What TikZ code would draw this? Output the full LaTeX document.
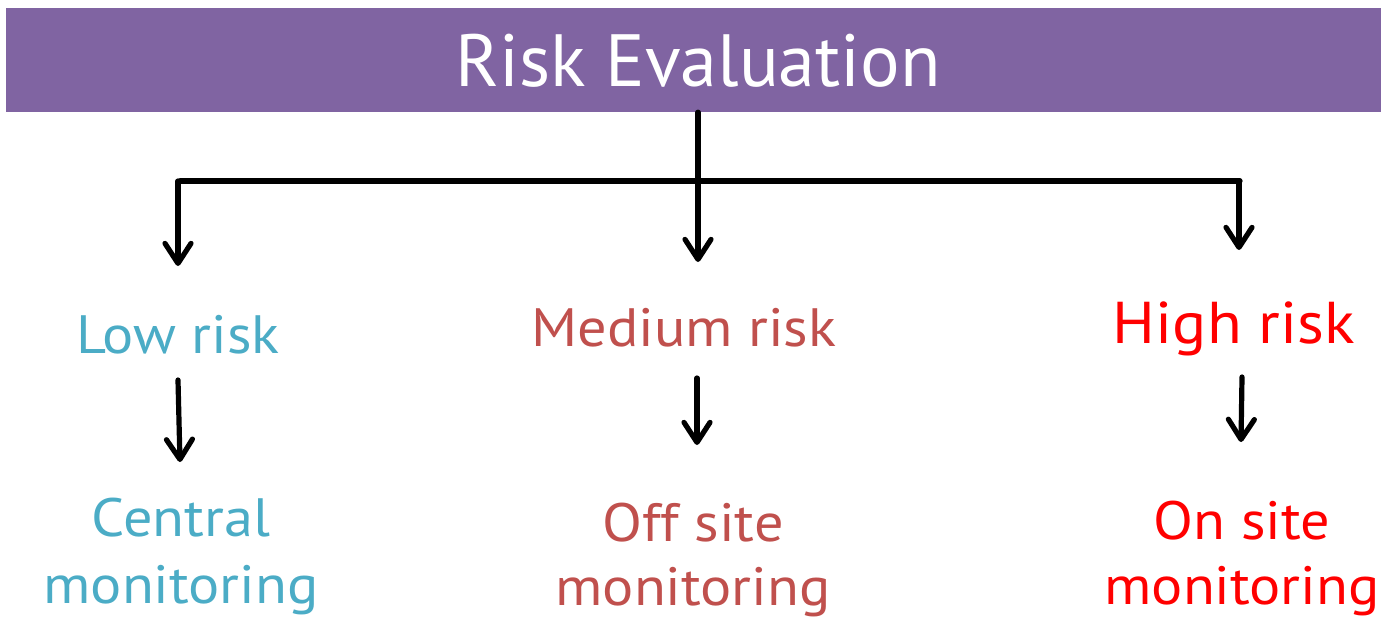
\documentclass[tikz,border=0pt]{standalone}
\usepackage{fontspec}
\setmainfont[FakeStretch=1.08]{PT Sans}
\newfontfamily\titlefont{PT Sans}
\usetikzlibrary{arrows.meta}
\definecolor{barpurple}{HTML}{8064A2}
\definecolor{lowcol}{HTML}{4BACC6}
\definecolor{medcol}{HTML}{C0504D}
\definecolor{highcol}{HTML}{FF0000}
\tikzset{
  link/.style={line width=5.2pt, line cap=round},
  arr/.style={link, -{Straight Barb[length=20pt,width=26pt,line cap=round,line join=round]}},
  lbl/.style={inner sep=0pt, anchor=base, align=center},
}
\begin{document}
\begin{tikzpicture}[x=1pt,y=-1pt]
  \useasboundingbox (0,0) rectangle (1381,619);
  % title bar
  \node[fill=barpurple, minimum width=1375pt, minimum height=104pt, inner sep=0pt] (bar) at (693.5,60) {};
  \node[inner sep=0pt, anchor=base, text=white, font=\titlefont\fontsize{74}{80}\selectfont]
    (title) at (698,86) {Risk Evaluation};

  % branch points
  \coordinate (split) at (698,181);
  \coordinate (hl) at (180,181);
  \coordinate (hr) at (1240,181);
  \coordinate (lowtip) at (178,266);
  \coordinate (medtip) at (698,262);
  \coordinate (hightip) at (1239,250);

  % risk levels
  \node[lbl, text=lowcol, font=\fontsize{54}{67}\selectfont] (low) at (178,353) {Low risk};
  \node[lbl, text=medcol, font=\fontsize{54}{67}\selectfont] (med) at (684,346) {Medium risk};
  \node[lbl, text=highcol, font=\fontsize{59}{70}\selectfont] (high) at (1234,343) {High risk};

  % monitoring types (base = last line)
  \node[lbl, text=lowcol, font=\fontsize{54}{67}\selectfont] (central) at (181,603) {Central\\monitoring};
  \node[lbl, text=medcol, font=\fontsize{54}{64}\selectfont] (offsite) at (693,605) {Off site\\monitoring};
  \node[lbl, text=highcol, font=\fontsize{54}{65}\selectfont] (onsite) at (1242,604) {On site\\monitoring};

  % tree connectors
  \draw[link] (bar.south -| split) -- (split);
  \draw[link] (hl) -- (hr);
  \draw[arr] (hl -| lowtip) -- (lowtip);
  \draw[arr] (split) -- (medtip);
  \draw[arr] (hr -| hightip) -- (hightip);

  % level to monitoring
  \coordinate (lowa) at (178,380);
  \coordinate (lowb) at (180,462);
  \coordinate (meda) at (697,378);
  \coordinate (medb) at (697,445);
  \coordinate (higha) at (1242,377);
  \coordinate (highb) at (1241,442);
  \draw[arr] (lowa) -- (lowb);
  \draw[arr] (meda) -- (medb);
  \draw[arr] (higha) -- (highb);
\end{tikzpicture}
\end{document}
